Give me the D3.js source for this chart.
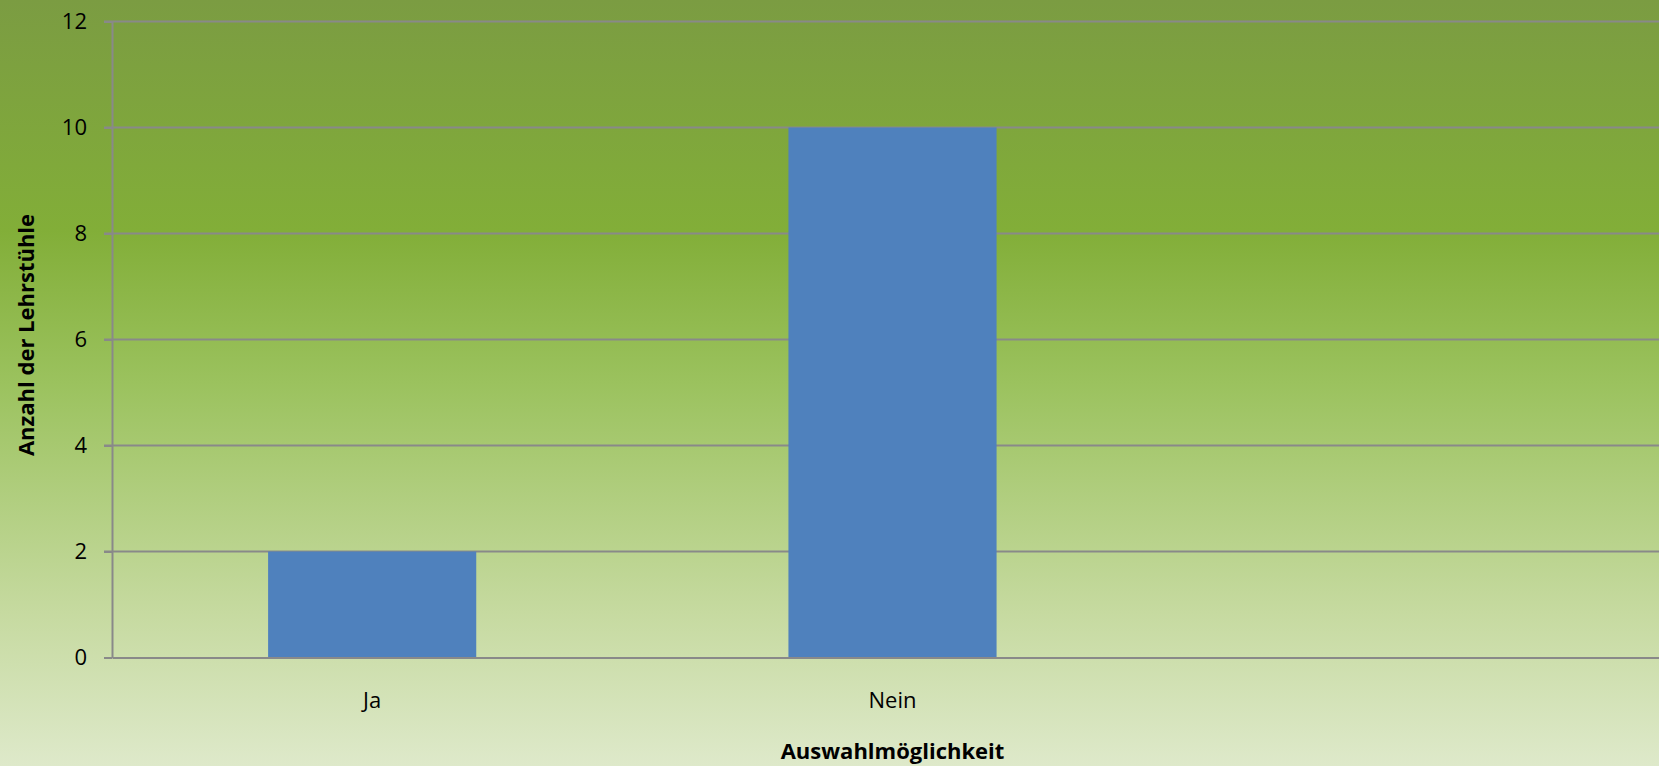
<!DOCTYPE html>
<html>
<head>
<meta charset="utf-8">
<script src="https://cdn.jsdelivr.net/npm/d3@7"></script>
<style>
html,body{margin:0;padding:0;overflow:hidden;}
svg{display:block;}
text{font-family:"Open Sans","DejaVu Sans",sans-serif;fill:#000;}
</style>
</head>
<body>
<script>
const categories = ["Ja", "Nein", ""];
const values = [2, 10, null];
const yTicks = [0, 2, 4, 6, 8, 10, 12];
const xTitle = "Auswahlmöglichkeit";
const yTitle = "Anzahl der Lehrstühle";

(function () {
const W = 1659, H = 766;
const svg = d3.select("body").append("svg").attr("width", W).attr("height", H);

const defs = svg.append("defs");
const grad = defs.append("linearGradient").attr("id", "bg")
  .attr("x1", 0).attr("y1", 0).attr("x2", 0).attr("y2", 1);
[[0, "#7b9c42"], [0.3, "#82ae38"], [0.5, "#9bc25e"], [0.8, "#c6daa0"], [1, "#dee9ca"]]
  .forEach(([o, c]) => grad.append("stop").attr("offset", o).attr("stop-color", c));
svg.append("rect").attr("width", W).attr("height", H).attr("fill", "url(#bg)");

const pLeft = 112, pRight = 1673, pTop = 21.5, pBottom = 657.5;
const x = d3.scaleBand().domain(categories.map((c, i) => i)).range([pLeft, pRight])
  .paddingInner(0.6).paddingOuter(0.3);
const y = d3.scaleLinear().domain([0, 12]).range([pBottom, pTop]);

// gridlines
svg.append("g").selectAll("line").data(yTicks.filter(t => t > 0)).join("line")
  .attr("x1", pLeft - 8).attr("x2", W)
  .attr("y1", d => y(d)).attr("y2", d => y(d))
  .attr("stroke", "#898989").attr("stroke-width", 2);

// bars
svg.append("g").selectAll("rect").data(values.map((v, i) => ({v, i})).filter(d => d.v != null)).join("rect")
  .attr("x", d => x(d.i)).attr("width", x.bandwidth())
  .attr("y", d => y(d.v)).attr("height", d => y(0) - y(d.v))
  .attr("fill", "#4f81bd");

// y axis
const yAxis = d3.axisLeft(y).tickValues(yTicks).tickSize(8).tickPadding(17).tickSizeOuter(0);
const gy = svg.append("g").attr("transform", `translate(${pLeft},0)`).call(yAxis);
gy.select(".domain").attr("stroke", "#898989").attr("stroke-width", 2);
gy.selectAll(".tick line").attr("stroke", "#898989").attr("stroke-width", 2);
gy.selectAll(".tick text").attr("font-size", 22).attr("font-family", '"Open Sans",sans-serif').attr("fill", "#000");

// x axis
const xAxis = d3.axisBottom(x).tickFormat(i => categories[i]).tickSize(0).tickPadding(35).tickSizeOuter(0);
const gx = svg.append("g").attr("transform", `translate(0,${pBottom})`).call(xAxis);
gx.select(".domain").attr("stroke", "#898989").attr("stroke-width", 2);
gx.selectAll(".tick text").attr("font-size", 22).attr("font-family", '"Open Sans",sans-serif').attr("fill", "#000");

// titles
svg.append("text").attr("x", (pLeft + pRight) / 2).attr("y", 759)
  .attr("text-anchor", "middle").attr("font-size", 22).attr("font-weight", "bold").text(xTitle);
svg.append("text").attr("transform", `translate(34,335) rotate(-90)`)
  .attr("text-anchor", "middle").attr("font-size", 22).attr("font-weight", "bold").text(yTitle);
})();
</script>
</body>
</html>
